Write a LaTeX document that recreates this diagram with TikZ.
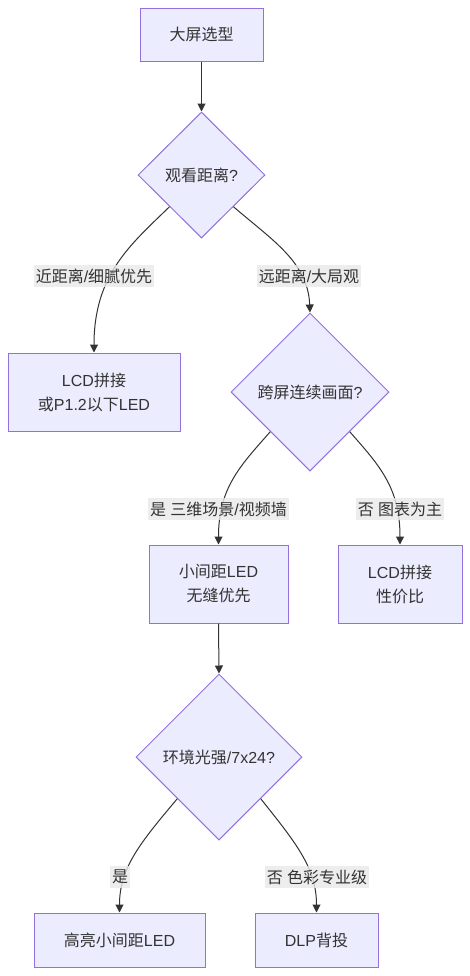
\documentclass[tikz,border=0pt]{standalone}
\usepackage{fontspec}
\setmainfont{Liberation Sans}
\newfontfamily\cjkfont{Noto Sans CJK SC}
\makeatletter
\newXeTeXintercharclass\CJKcls
\count@="3000
\loop \XeTeXcharclass\count@=\CJKcls \advance\count@ by 1 \ifnum\count@<"A000 \repeat
\count@="FF00
\loop \XeTeXcharclass\count@=\CJKcls \advance\count@ by 1 \ifnum\count@<"FFF0 \repeat
\makeatother
\XeTeXinterchartokenstate=1
\XeTeXinterchartoks 0 \CJKcls = {\begingroup\cjkfont}
\XeTeXinterchartoks 4095 \CJKcls = {\begingroup\cjkfont}
\XeTeXinterchartoks \CJKcls 0 = {\endgroup}
\XeTeXinterchartoks \CJKcls 4095 = {\endgroup}
\usetikzlibrary{shapes.geometric,arrows.meta}
\definecolor{nodefill}{HTML}{ECECFF}
\definecolor{nodeline}{HTML}{9370DB}
\definecolor{txt}{HTML}{333333}
\definecolor{edgec}{HTML}{333333}
\definecolor{lblbg}{HTML}{E8E8E8}
\tikzset{
  base/.style={fill=nodefill, draw=nodeline, line width=0.75pt, text=txt,
    font=\fontsize{12}{18}\selectfont, align=center, inner sep=0pt},
  box/.style={base, rectangle},
  dia/.style={base, diamond, aspect=1},
  edge/.style={draw=edgec, line width=0.75pt, -{Triangle[length=6pt,width=6pt]}},
  lbl/.style={fill=lblbg, fill opacity=0.8, text opacity=1, text=txt,
    font=\fontsize{12}{18}\selectfont, inner xsep=1.2pt, inner ysep=0pt,
    minimum height=16.5pt}
}
\begin{document}
\begin{tikzpicture}[x=0.75pt,y=-0.75pt]
\useasboundingbox (0,0) rectangle (470,976);
% nodes
\node[box, minimum width=92.25pt, minimum height=39.75pt] (b1) at (201.5,34.5) {大屏选型};
\node[dia, minimum width=95.25pt, minimum height=94.5pt] (d1) at (201.5,175) {观看距离?};
\node[box, minimum width=129pt, minimum height=58.5pt] (lcd1) at (94,392) {LCD拼接\\或P1.2以下LED};
\node[dia, minimum width=118.5pt, minimum height=118.5pt] (d2) at (310,392) {跨屏连续画面?};
\node[box, minimum width=104.25pt, minimum height=58.5pt] (led) at (218.5,584) {小间距LED\\无缝优先};
\node[box, minimum width=93pt, minimum height=58.5pt] (lcd2) at (400,584) {LCD拼接\\性价比};
\node[dia, minimum width=124.5pt, minimum height=124.5pt] (d3) at (219,757) {环境光强/7x24?};
\node[box, minimum width=128.25pt, minimum height=40.5pt] (hl) at (119.5,940) {高亮小间距LED};
\node[box, minimum width=92.25pt, minimum height=40.5pt] (dlp) at (316.5,940) {DLP背投};
% edges
\draw[edge] (b1.south) -- (d1.north);
\draw[edge] (d1.south west) .. controls (130,245) and (94,275) .. (lcd1.north);
\draw[edge] (d1.south east) .. controls (272,240) and (308,262) .. (d2.north);
\draw[edge] (d2.south west) .. controls (240,466) and (218.5,488) .. (led.north);
\draw[edge] (d2.south east) .. controls (380,466) and (400,488) .. (lcd2.north);
\draw[edge] (led.south) -- (d3.north);
\draw[edge] (d3.south west) .. controls (140,843) and (119.5,868) .. (hl.north);
\draw[edge] (d3.south east) .. controls (296,843) and (316.5,868) .. (dlp.north);
% labels
\node[lbl] (l1) at (94,276) {近距离/细腻优先};
\node[lbl] (l2) at (309,276) {远距离/大局观};
\node[lbl] (l3) at (218.5,509) {是 三维场景/视频墙};
\node[lbl] (l4) at (400,509) {否 图表为主};
\node[lbl] (l5) at (120,877) {是};
\node[lbl] (l6) at (317,877) {否 色彩专业级};
\end{tikzpicture}
\end{document}
